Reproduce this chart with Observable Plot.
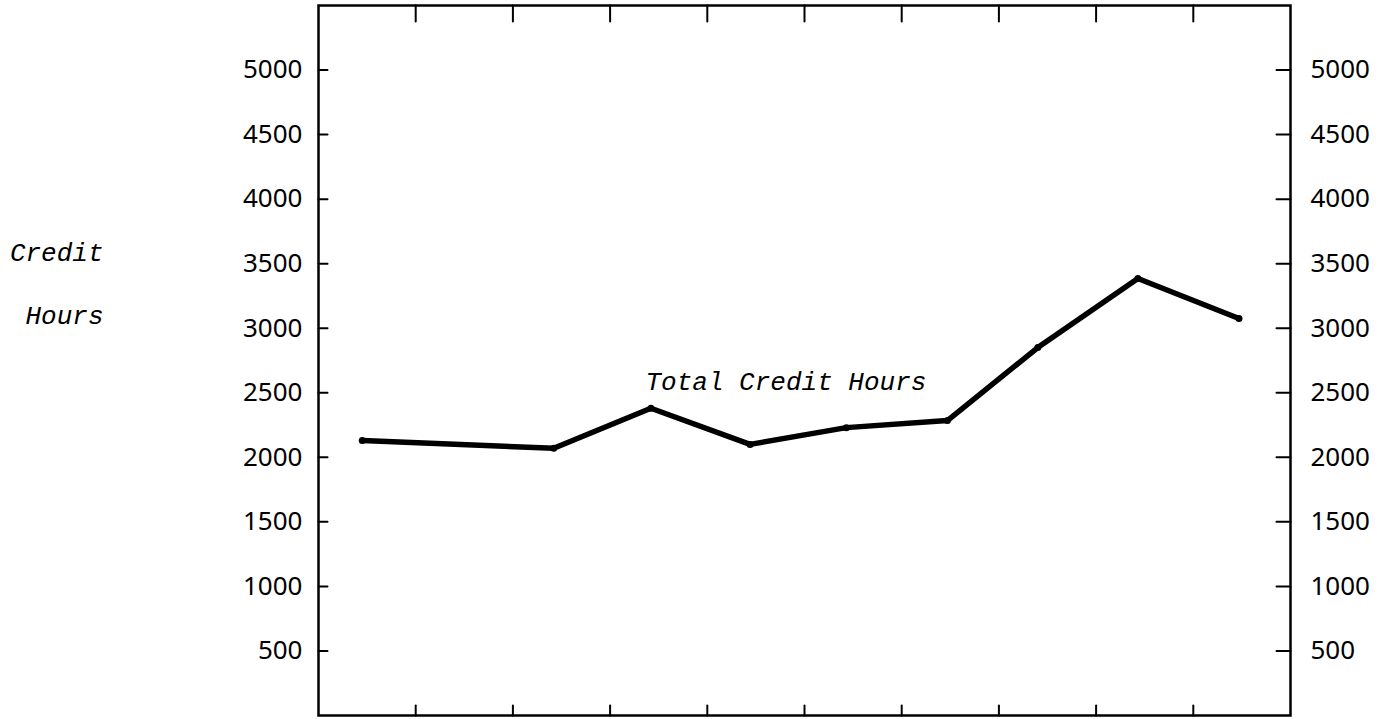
<!DOCTYPE html>
<html><head><meta charset="utf-8">
<script src="https://cdn.jsdelivr.net/npm/d3@7"></script>
<script src="https://cdn.jsdelivr.net/npm/@observablehq/plot@0.6"></script>
<style>body{margin:0;background:#fff;} svg{display:block;}</style>
</head><body><div id="chart"></div>
<script>
// Data
const periods = [0.45, 2.42, 3.42, 4.44, 5.43, 6.47, 7.40, 8.43, 9.47];
const creditHours = [2130, 2070, 2380, 2100, 2230, 2285, 2850, 3385, 3075];
const xTicks = [1, 2, 3, 4, 5, 6, 7, 8, 9];
const yTicks = [500, 1000, 1500, 2000, 2500, 3000, 3500, 4000, 4500, 5000];
const yTitleLines = ["Credit", "Hours"];
const seriesLabel = "Total Credit Hours";

const data = periods.map((p, i) => ({period: p, hours: creditHours[i]}));
const stick = {draw(ctx, l) { ctx.moveTo(0, 0); ctx.lineTo(0, -l); }};
const mono = {fontFamily: "Liberation Mono", fontStyle: "italic", fontSize: 26, fill: "black"};

const chart = Plot.plot({
  width: 1390, height: 719,
  marginLeft: 318, marginRight: 100, marginTop: 5, marginBottom: 4,
  style: {background: "white", color: "black", overflow: "visible"},
  x: {domain: [0, 10], axis: null},
  y: {domain: [0, 5500], axis: null},
  marks: [
    Plot.frame({stroke: "black", strokeWidth: 2.5}),
    Plot.vector(yTicks, {y: d => d, frameAnchor: "left", rotate: 90, length: 9, anchor: "start", shape: stick, stroke: "black", strokeWidth: 2}),
    Plot.vector(yTicks, {y: d => d, frameAnchor: "right", rotate: -90, length: 14, anchor: "start", shape: stick, stroke: "black", strokeWidth: 2}),
    Plot.vector(xTicks, {x: d => d, frameAnchor: "top", rotate: 180, length: 16, anchor: "start", shape: stick, stroke: "black", strokeWidth: 2}),
    Plot.vector(xTicks, {x: d => d, frameAnchor: "bottom", rotate: 0, length: 10, anchor: "start", shape: stick, stroke: "black", strokeWidth: 2}),
    Plot.axisY(yTicks, {anchor: "left", label: null, tickSize: 0, tickPadding: 16, fontSize: 26, fontFamily: "Noto Sans", tickFormat: d => `${d}`}),
    Plot.axisY(yTicks, {anchor: "right", label: null, tickSize: 0, tickPadding: 20, fontSize: 26, fontFamily: "Noto Sans", tickFormat: d => `${d}`}),
    Plot.line(data, {x: "period", y: "hours", stroke: "black", strokeWidth: 5.5, strokeLinejoin: "round", strokeLinecap: "round"}),
    Plot.dot(data, {x: "period", y: "hours", r: 3.5, fill: "black"}),
    Plot.text([yTitleLines[0]], {text: d => d, frameAnchor: "top-left", dx: -215, dy: 237, textAnchor: "end", ...mono}),
    Plot.text([yTitleLines[1]], {text: d => d, frameAnchor: "top-left", dx: -215, dy: 300, textAnchor: "end", ...mono}),
    Plot.text([seriesLabel], {text: d => d, frameAnchor: "top-left", dx: 327, dy: 366, textAnchor: "start", ...mono})
  ]
});
document.getElementById("chart").appendChild(chart);
</script>
</body></html>
